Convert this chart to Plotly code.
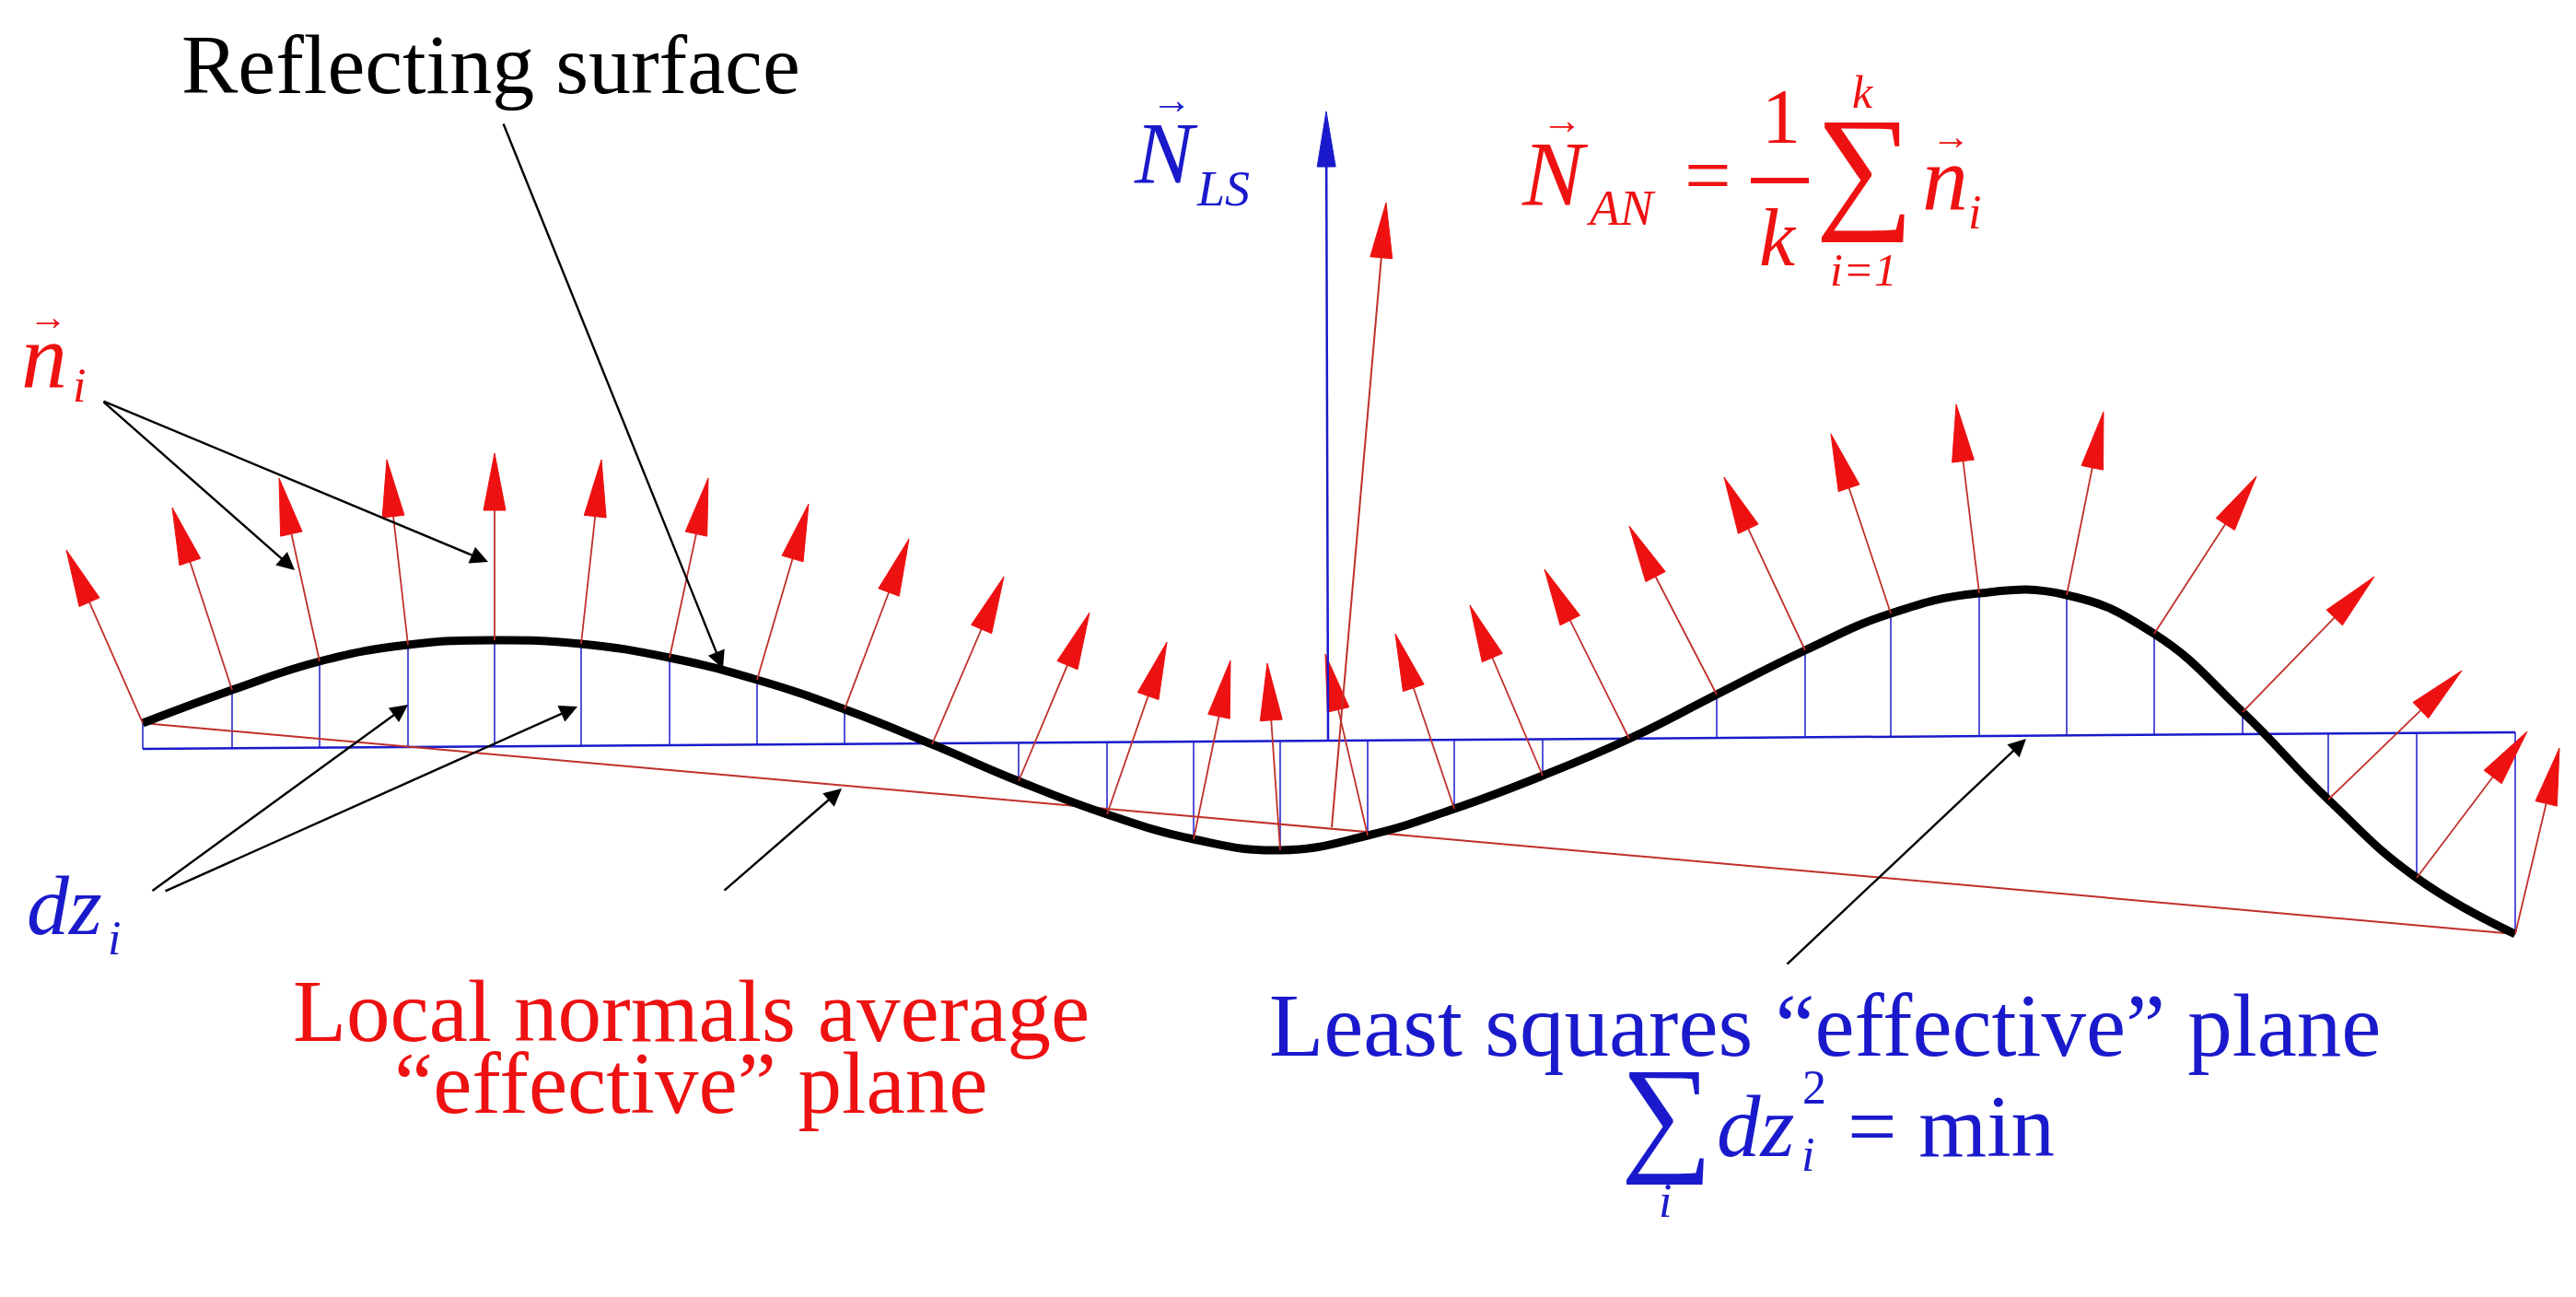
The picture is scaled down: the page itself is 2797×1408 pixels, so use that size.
import numpy as np
import plotly.graph_objects as go

W, H = 2797, 1408
# surface sample points (pixel coords of reference)
surf_x = [147,244,339,435,529,623,719,814,909,1004,1098,1194,1288,1382,1477,1571,1667,1761,1856,1952,2045,2141,2236,2331,2427,2520,2616,2723]
surf_y = [777,741,710,692,687,691,706,730,762,800,840,876,903,915,899,870,834,794,746,698,658,636,638,680,765,860,945,1006]
# tips of local normals n_i
tip_x = [64,179,295,412,529,645,761,870,979,1082,1175,1259,1328,1368,1431,1507,1588,1669,1761,1864,1980,2116,2276,2442,2570,2665,2736,2771]
tip_y = [589,543,511,491,484,491,511,539,577,618,657,689,709,712,702,680,649,610,563,510,463,431,439,509,618,720,786,804]
# planes
ls_plane_x = [147, 2723]; ls_plane_y = [805, 787]
an_plane_x = [147, 2723]; an_plane_y = [777, 1006]
# effective normals
nls_base = (1434, 796); nls_tip = (1432, 113)
nan_base = (1438, 890); nan_tip = (1497, 212)

RED = "#ee1111"; BLUE = "#1a1acc"; DRED = "#c0302a"

fig = go.Figure()

def ls_y(x):
    return np.interp(x, ls_plane_x, ls_plane_y)

dx, dy = [], []
for x, y in zip(surf_x, surf_y):
    dx += [x, x, None]; dy += [y, ls_y(x), None]
fig.add_trace(go.Scatter(x=dx, y=dy, mode="lines", line=dict(color=BLUE, width=1.5), hoverinfo="skip"))
fig.add_trace(go.Scatter(x=ls_plane_x, y=ls_plane_y, mode="lines", line=dict(color=BLUE, width=2.5), hoverinfo="skip"))
fig.add_trace(go.Scatter(x=an_plane_x, y=an_plane_y, mode="lines", line=dict(color=DRED, width=2), hoverinfo="skip"))
fig.add_trace(go.Scatter(x=surf_x, y=surf_y, mode="lines", line=dict(color="black", width=9, shape="spline", smoothing=1.3), hoverinfo="skip"))

def arrows(bases, tips, color, width, hl=62, hw=12, headcolor=RED):
    lx, ly, px, py = [], [], [], []
    for (bx, by), (tx, ty) in zip(bases, tips):
        v = np.array([tx - bx, ty - by], float); L = np.hypot(*v); u = v / L; n = np.array([-u[1], u[0]])
        s = np.array([tx, ty]) - u * hl
        lx += [bx, s[0], None]; ly += [by, s[1], None]
        p1 = s + n * hw; p2 = s - n * hw
        px += [tx, p1[0], p2[0], tx, None]; py += [ty, p1[1], p2[1], ty, None]
    fig.add_trace(go.Scatter(x=lx, y=ly, mode="lines", line=dict(color=color, width=width), hoverinfo="skip"))
    fig.add_trace(go.Scatter(x=px, y=py, mode="lines", fill="toself", fillcolor=headcolor, line=dict(color=headcolor, width=1), hoverinfo="skip"))

arrows(list(zip(surf_x, surf_y)), list(zip(tip_x, tip_y)), DRED, 1.8)
arrows([nls_base], [nls_tip], BLUE, 2.5, hl=60, hw=10, headcolor=BLUE)
arrows([nan_base], [nan_tip], DRED, 2, hl=60, hw=12)

pointers = [((538,125),(777,718)), ((103,427),(312,611)), ((103,427),(522,602)),
            ((156,960),(435,757)), ((170,960),(619,759)), ((777,960),(906,848)), ((1931,1040),(2192,794))]
for (x0,y0),(x1,y1) in pointers:
    fig.add_annotation(x=x1, y=y1, ax=x0, ay=y0, xref="x", yref="y", axref="x", ayref="y",
                       showarrow=True, arrowhead=2, arrowsize=1.6, arrowwidth=2.4, arrowcolor="black", text="")

F = "Liberation Serif"
def txt(x, y, s, size, color, italic=False):
    if italic: s = "<i>" + s + "</i>"
    fig.add_annotation(x=x, y=y, xref="x", yref="y", text=s, showarrow=False,
                       font=dict(family=F, size=size, color=color), xanchor="center", yanchor="middle")

txt(525, 62, "Reflecting surface", 92, "black")
# n_i
txt(40, 378, "n", 100, RED, True); txt(78, 410, "i", 52, RED, True); txt(44, 336, "→", 42, RED)
# dz_i
txt(62, 975, "dz", 92, BLUE, True); txt(116, 1010, "i", 52, BLUE, True)
# N_LS
txt(1258, 158, "N", 96, BLUE, True); txt(1320, 197, "LS", 54, BLUE, True); txt(1264, 100, "→", 44, BLUE)
# N_AN formula
txt(1680, 180, "N", 100, RED, True); txt(1752, 218, "AN", 54, RED, True); txt(1688, 122, "→", 44, RED)
txt(1846, 182, "=", 90, RED)
txt(1926, 118, "1", 84, RED)
fig.add_shape(type="line", x0=1893, x1=1956, y0=188, y1=188, line=dict(color=RED, width=6))
txt(1922, 250, "k", 88, RED, True)
txt(2016, 172, "∑", 150, RED)
txt(2014, 92, "k", 50, RED, True); txt(2015, 285, "i=1", 50, RED, True)
txt(2104, 185, "n", 100, RED, True); txt(2136, 222, "i", 52, RED, True); txt(2110, 140, "→", 42, RED)
# labels
txt(742, 1090, "Local normals average", 95, RED)
txt(742, 1168, "“effective” plane", 95, RED)
txt(1973, 1105, "Least squares “effective” plane", 97, BLUE)
txt(1802, 1200, "∑", 140, BLUE)
txt(1800, 1295, "i", 52, BLUE, True)
txt(1898, 1215, "dz", 95, BLUE, True); txt(1955, 1245, "i", 52, BLUE, True); txt(1962, 1172, "2", 52, BLUE)
txt(2110, 1215, "= min", 95, BLUE)

fig.update_layout(width=W, height=H, margin=dict(l=0, r=0, t=0, b=0), showlegend=False,
                  plot_bgcolor="white", paper_bgcolor="white")
fig.update_xaxes(range=[0, W], visible=False)
fig.update_yaxes(range=[H, 0], visible=False)
fig.write_html("out.html")
